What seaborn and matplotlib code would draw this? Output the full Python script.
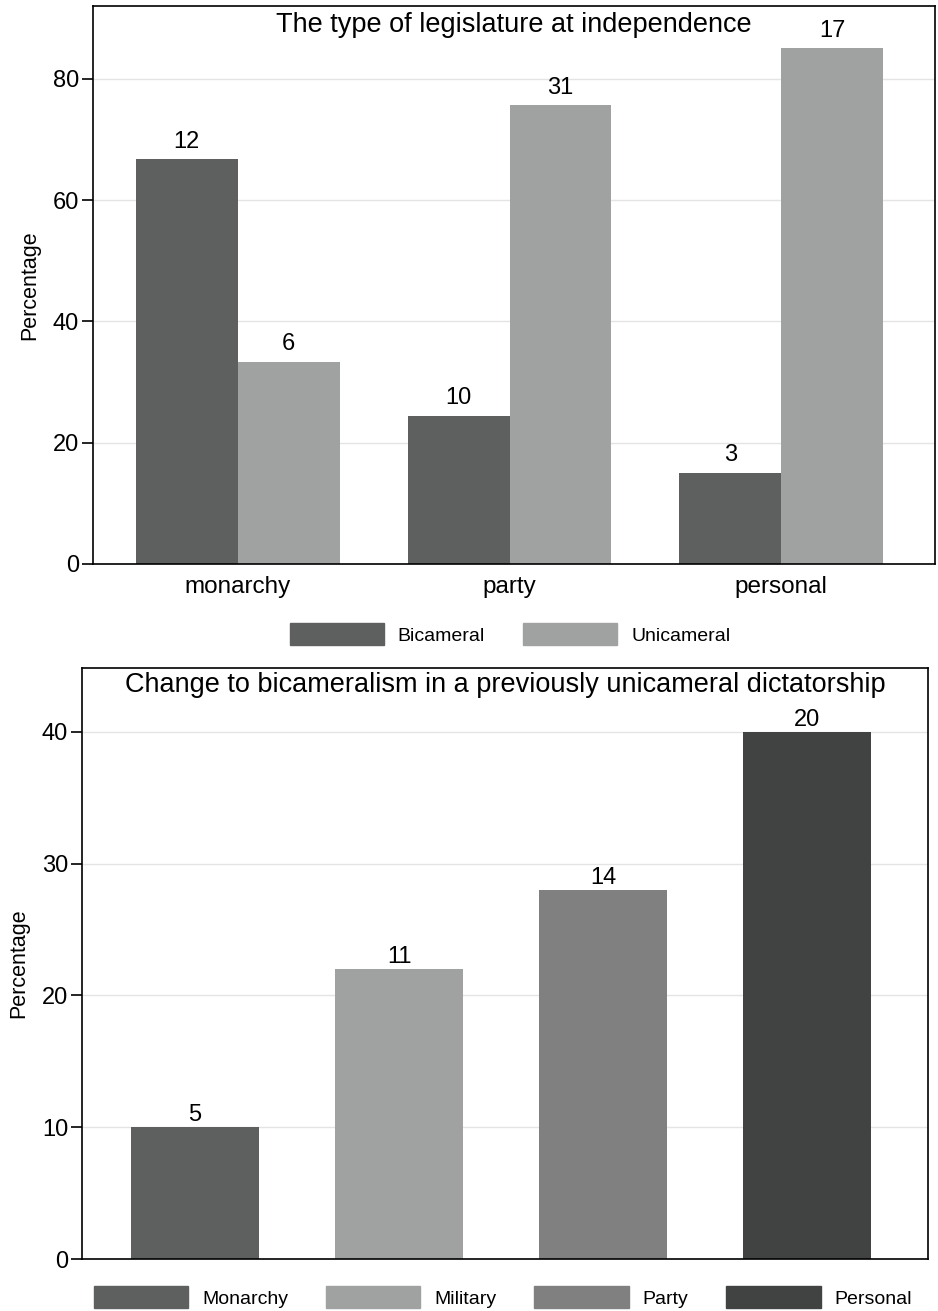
import numpy as np
import pandas as pd
import matplotlib
matplotlib.use('Agg')
import matplotlib.pyplot as plt
import seaborn as sns
from matplotlib.patches import Patch

# top panel: type of legislature at independence
regimes = ['monarchy', 'party', 'personal']
legis = ['Bicameral', 'Unicameral']
bicam_pct = [66.7, 24.4, 15.0]
unicam_pct = [33.3, 75.6, 85.0]
bicam_n = [12, 10, 3]
unicam_n = [6, 31, 17]

# bottom panel: change to bicameralism
change_types = ['Monarchy', 'Military', 'Party', 'Personal']
change_pct = [10, 22, 28, 40]
change_n = [5, 11, 14, 20]

dark = '#5e605f'
light = '#a0a2a1'
mid = '#808080'
darkest = '#414342'

sns.set_theme(style='white')
plt.rcParams['font.family'] = ['Liberation Sans', 'DejaVu Sans']
plt.rcParams['text.color'] = 'black'
plt.rcParams['axes.labelcolor'] = 'black'
plt.rcParams['xtick.color'] = 'black'
plt.rcParams['ytick.color'] = 'black'

fig = plt.figure(figsize=(9.38, 13.11), dpi=100)

top = pd.DataFrame({
    'regime': regimes * 2,
    'legis': [legis[0]] * 3 + [legis[1]] * 3,
    'pct': bicam_pct + unicam_pct,
})

ax1 = fig.add_axes([93 / 938, 1 - 564 / 1311, 842 / 938, 558 / 1311])
sns.barplot(data=top, x='regime', y='pct', hue='legis', palette=[dark, light],
            width=0.75, linewidth=0, legend=False, ax=ax1)
ax1.bar_label(ax1.containers[0], labels=bicam_n, padding=5, fontsize=17)
ax1.bar_label(ax1.containers[1], labels=unicam_n, padding=5, fontsize=17)
ax1.set_ylim(0, 92)
ax1.set_xlim(-0.533, 2.566)
ax1.set_yticks([0, 20, 40, 60, 80])
ax1.text(0.5, 0.99, 'The type of legislature at independence', transform=ax1.transAxes,
         ha='center', va='top', fontsize=19.5)

ax2 = fig.add_axes([82 / 938, 1 - 1259 / 1311, 846 / 938, 591 / 1311])
sns.barplot(x=change_types, y=change_pct, hue=change_types,
            palette=[dark, light, mid, darkest], width=0.63, linewidth=0,
            legend=False, ax=ax2)
for cont, n in zip(ax2.containers, change_n):
    ax2.bar_label(cont, labels=[n], padding=1, fontsize=17)
ax2.set_ylim(0, 44.85)
ax2.set_xlim(-0.554, 3.593)
ax2.set_yticks([0, 10, 20, 30, 40])
ax2.set_xticks([])
ax2.text(0.5, 0.993, 'Change to bicameralism in a previously unicameral dictatorship',
         transform=ax2.transAxes, ha='center', va='top', fontsize=19.5)

for ax in (ax1, ax2):
    ax.set_xlabel('')
    ax.set_ylabel('Percentage', fontsize=15.5, labelpad=9)
    ax.yaxis.grid(True, color='#e4e4e4', linewidth=1)
    ax.set_axisbelow(True)
    for s in ax.spines.values():
        s.set_color('black')
        s.set_linewidth(1.2)
    ax.tick_params(axis='y', length=8, width=1.2, color='black', labelsize=17, pad=2, left=True)
    ax.tick_params(axis='x', length=0, labelsize=17.5, pad=9)

fig.legend(handles=[Patch(color=dark), Patch(color=light)], labels=legis,
           loc='center', bbox_to_anchor=(510 / 938, 1 - 634 / 1311), ncol=2,
           frameon=False, fontsize=14, handlelength=4.85, handleheight=1.3,
           handletextpad=0.72, columnspacing=1.95)

fig.legend(handles=[Patch(color=c) for c in [dark, light, mid, darkest]], labels=change_types,
           loc='center', bbox_to_anchor=(503 / 938, 1 - 1297 / 1311), ncol=4,
           frameon=False, fontsize=14, handlelength=4.85, handleheight=1.3,
           handletextpad=0.72, columnspacing=1.95)

fig.savefig('out.png', dpi=100)
